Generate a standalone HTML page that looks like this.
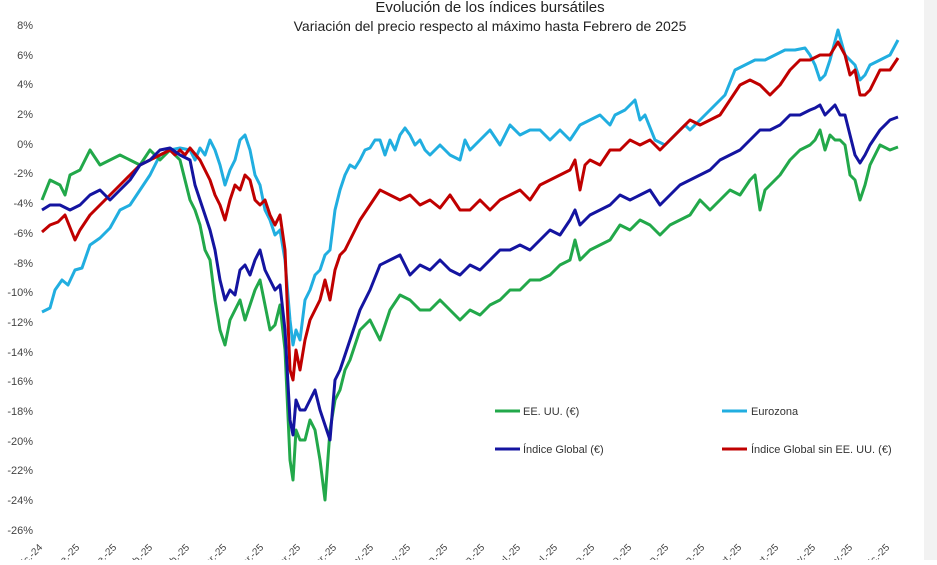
<!DOCTYPE html><html><head><meta charset="utf-8"><style>body{margin:0;background:#fff;width:937px;height:560px;overflow:hidden}svg{font-family:"Liberation Sans",sans-serif}</style></head><body>
<svg width="937" height="560" viewBox="0 0 937 560">
<rect x="924" y="0" width="13" height="560" fill="#f2f2f2"/>
<text x="490" y="12" font-size="15" text-anchor="middle" fill="#222">Evolución de los índices bursátiles</text>
<text x="490" y="31" font-size="14" text-anchor="middle" fill="#222">Variación del precio respecto al máximo hasta Febrero de 2025</text>
<g font-size="11" fill="#444" text-anchor="end">
<text x="33" y="29">8%</text><text x="33" y="59">6%</text><text x="33" y="88">4%</text><text x="33" y="118">2%</text><text x="33" y="148">0%</text><text x="33" y="177">-2%</text><text x="33" y="207">-4%</text><text x="33" y="237">-6%</text><text x="33" y="267">-8%</text><text x="33" y="296">-10%</text><text x="33" y="326">-12%</text><text x="33" y="356">-14%</text><text x="33" y="385">-16%</text><text x="33" y="415">-18%</text><text x="33" y="445">-20%</text><text x="33" y="474">-22%</text><text x="33" y="504">-24%</text><text x="33" y="534">-26%</text>
</g>
<g font-size="10" fill="#444" text-anchor="end">
<text transform="translate(43,548) rotate(-45)">dic.-24</text>
<text transform="translate(80,548) rotate(-45)">ene.-25</text>
<text transform="translate(117,548) rotate(-45)">ene.-25</text>
<text transform="translate(153,548) rotate(-45)">feb.-25</text>
<text transform="translate(190,548) rotate(-45)">feb.-25</text>
<text transform="translate(227,548) rotate(-45)">mar.-25</text>
<text transform="translate(264,548) rotate(-45)">mar.-25</text>
<text transform="translate(301,548) rotate(-45)">abr.-25</text>
<text transform="translate(337,548) rotate(-45)">abr.-25</text>
<text transform="translate(374,548) rotate(-45)">may.-25</text>
<text transform="translate(411,548) rotate(-45)">may.-25</text>
<text transform="translate(448,548) rotate(-45)">jun.-25</text>
<text transform="translate(485,548) rotate(-45)">jun.-25</text>
<text transform="translate(521,548) rotate(-45)">jul.-25</text>
<text transform="translate(558,548) rotate(-45)">jul.-25</text>
<text transform="translate(595,548) rotate(-45)">ago.-25</text>
<text transform="translate(632,548) rotate(-45)">ago.-25</text>
<text transform="translate(669,548) rotate(-45)">sep.-25</text>
<text transform="translate(705,548) rotate(-45)">sep.-25</text>
<text transform="translate(742,548) rotate(-45)">oct.-25</text>
<text transform="translate(779,548) rotate(-45)">oct.-25</text>
<text transform="translate(816,548) rotate(-45)">nov.-25</text>
<text transform="translate(853,548) rotate(-45)">nov.-25</text>
<text transform="translate(890,548) rotate(-45)">dic.-25</text>
</g>
<g fill="none" stroke-width="3" stroke-linejoin="round">
<polyline stroke="#21aee0" points="42,312 50,308 55,290 62,280 68,285 75,270 82,268 90,245 100,238 110,228 120,210 130,205 140,190 150,175 160,155 170,150 180,148 190,150 195,160 200,148 205,155 210,140 215,150 220,165 225,185 230,170 235,160 240,140 245,135 250,150 255,175 260,185 265,210 270,220 275,235 280,230 285,260 290,320 293,345 296,330 300,340 305,300 310,290 315,275 320,270 325,255 330,250 335,210 340,190 345,175 350,165 355,168 360,160 365,150 370,148 375,140 380,140 385,155 390,140 395,150 400,135 405,128 410,135 415,145 420,140 425,150 430,155 440,145 450,155 460,160 465,140 470,150 480,140 490,130 500,145 510,125 520,135 530,130 540,130 550,140 560,130 570,140 580,125 590,120 600,115 610,125 615,115 625,110 630,105 635,100 640,120 645,115 655,140 665,145 675,135 685,125 690,130 700,120 710,110 720,100 725,95 735,70 745,65 755,60 765,60 775,55 785,50 795,50 805,48 810,55 815,65 820,80 825,75 830,60 838,30 845,55 855,65 860,80 865,75 870,65 880,60 890,55 898,40"/>
<polyline stroke="#22a84a" points="42,200 50,180 60,185 65,195 70,175 80,170 90,150 100,165 110,160 120,155 130,160 140,165 150,150 160,160 170,150 180,160 190,200 195,210 200,225 205,250 210,260 215,300 220,330 225,345 230,320 235,310 240,300 245,320 250,305 255,290 260,280 265,305 270,330 275,325 280,305 285,350 290,460 293,480 296,430 300,440 305,440 310,420 315,430 320,460 325,500 330,430 335,400 340,390 345,370 350,360 360,330 370,320 380,340 390,310 400,295 410,300 420,310 430,310 440,300 450,310 460,320 470,310 480,315 490,305 500,300 510,290 520,290 530,280 540,280 550,275 560,265 570,260 575,240 580,260 590,250 600,245 610,240 620,225 630,230 640,220 650,225 660,235 670,225 680,220 690,215 700,200 710,210 720,200 730,190 740,195 750,180 755,175 760,210 765,190 770,185 780,175 790,160 800,150 810,145 815,140 820,130 825,150 830,135 835,140 840,140 845,145 850,175 855,180 860,200 865,185 870,165 880,145 890,150 898,147"/>
<polyline stroke="#c00000" points="42,232 50,225 58,222 65,215 75,240 80,230 90,215 100,205 110,195 120,185 130,175 140,165 150,160 160,155 170,150 175,155 180,150 185,155 190,148 200,160 210,180 215,195 220,205 225,220 230,200 235,185 240,190 245,175 250,180 255,200 260,205 265,200 270,215 275,225 280,215 285,250 290,370 293,380 296,350 300,370 305,340 310,320 315,310 320,300 325,280 330,300 335,270 340,255 345,250 350,240 360,220 370,205 380,190 390,195 400,200 410,195 420,205 430,200 440,208 450,195 460,210 470,210 480,200 490,210 500,200 510,195 520,190 530,200 540,185 550,180 560,175 570,170 575,160 580,190 585,165 590,160 600,165 610,150 620,150 630,140 640,145 650,140 660,150 670,140 680,130 690,120 700,125 710,120 720,115 730,100 740,85 750,80 760,85 770,95 780,85 790,70 800,60 810,60 820,55 830,55 838,42 845,55 850,75 855,70 860,95 865,95 870,90 880,70 890,70 898,58"/>
<polyline stroke="#1414a0" points="42,210 50,205 60,205 70,210 80,205 90,195 100,190 110,200 120,190 130,180 140,165 150,160 160,150 170,148 180,155 190,160 195,185 200,200 205,215 210,230 215,250 220,280 225,300 230,290 235,295 240,270 245,265 250,275 255,260 260,250 265,270 270,280 275,290 280,285 285,330 290,420 293,435 296,400 300,410 305,410 310,400 315,390 320,410 325,425 330,440 335,380 340,370 345,355 350,340 360,310 370,290 380,265 390,260 400,255 410,275 420,265 430,270 440,260 450,270 460,275 470,265 480,270 490,260 500,250 510,250 520,245 530,250 540,240 550,230 560,235 570,220 575,210 580,225 590,215 600,210 610,205 620,195 630,200 640,195 650,190 660,205 670,195 680,185 690,180 700,175 710,170 720,160 730,155 740,150 750,140 760,130 770,130 780,125 790,115 800,115 810,110 815,108 820,105 825,115 830,110 835,105 840,115 845,115 850,135 855,155 860,163 865,155 870,145 880,130 890,120 898,117"/>
</g>
<g stroke-width="3">
<line x1="495" y1="411" x2="520" y2="411" stroke="#22a84a"/>
<line x1="722" y1="411" x2="747" y2="411" stroke="#21aee0"/>
<line x1="495" y1="449" x2="520" y2="449" stroke="#1414a0"/>
<line x1="722" y1="449" x2="747" y2="449" stroke="#c00000"/>
</g>
<g font-size="11" fill="#333">
<text x="523" y="415">EE. UU. (€)</text>
<text x="751" y="415">Eurozona</text>
<text x="523" y="453">Índice Global (€)</text>
<text x="751" y="453">Índice Global sin EE. UU. (€)</text>
</g>
</svg></body></html>
